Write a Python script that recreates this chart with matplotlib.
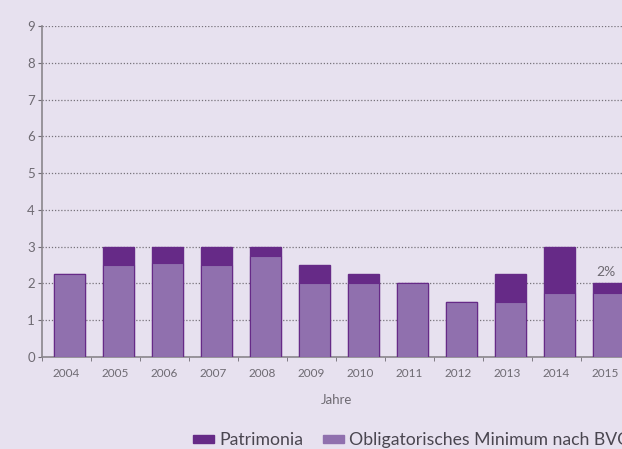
import matplotlib
matplotlib.use("Agg")
import matplotlib.pyplot as plt
import numpy as np
from matplotlib.patches import Patch

years = ["2004", "2005", "2006", "2007", "2008", "2009", "2010", "2011", "2012", "2013", "2014", "2015"]
bvg_min = [2.25, 2.5, 2.55, 2.5, 2.75, 2.0, 2.0, 2.0, 1.5, 1.5, 1.75, 1.75]
patrimonia = [2.25, 3.0, 3.0, 3.0, 3.0, 2.5, 2.25, 2.0, 1.5, 2.25, 3.0, 2.0]
label_2015 = "2%"

bg = "#e7e1ef"
dark = "#662a87"
light = "#9070ae"
grey = "#6e6a72"

plt.rcParams['font.family'] = ['Lato', 'DejaVu Sans']
fig = plt.figure(figsize=(6.22, 4.49), dpi=100, facecolor=bg)
ax = fig.add_axes([42/622, 92/449, 588/622, 331/449], facecolor=bg)

x = np.arange(len(years))
ax.bar(x + 0.06, patrimonia, width=0.62, color=dark, edgecolor=dark, linewidth=1, zorder=3)
ax.bar(x + 0.06, bvg_min, width=0.62, color=light, edgecolor=dark, linewidth=0.8, zorder=3)

ax.text(x[-1], patrimonia[-1] + 0.15, label_2015, ha='center', va='bottom', color=grey, fontsize=10)

ax.set_xlim(-0.5, len(years) - 0.5)
ax.set_ylim(0, 9)
ax.set_yticks(range(10))
ax.yaxis.grid(True, linestyle=(0, (1, 1.5)), color='#77727a', linewidth=0.9, zorder=0)
ax.set_xticks(x)
ax.set_xticklabels(years)
ax.set_xticks(np.arange(-0.5, len(years), 1), minor=True)
ax.tick_params(axis='x', which='major', length=0, pad=8, labelsize=8.5, colors=grey)
ax.tick_params(axis='x', which='minor', length=3, color=grey)
ax.tick_params(axis='y', length=3, color=grey, labelsize=9.5, labelcolor=grey, pad=2)
for s in ['top', 'right']:
    ax.spines[s].set_visible(False)
for s in ['left', 'bottom']:
    ax.spines[s].set_color('#8a868c')
    ax.spines[s].set_linewidth(1.2)
ax.set_xlabel("Jahre", color=grey, fontsize=9.5, labelpad=11)

handles = [Patch(color=dark, label="Patrimonia"), Patch(color=light, label="Obligatorisches Minimum nach BVG")]
fig.legend(handles=handles, loc='center left', bbox_to_anchor=(186/622, 9/449), ncol=2, frameon=False,
           fontsize=12.7, handlelength=1.2, handleheight=0.35, handletextpad=0.3, columnspacing=1.1,
           labelcolor='#4a4650', borderaxespad=0)

fig.savefig("out.png", dpi=100, facecolor=bg)
